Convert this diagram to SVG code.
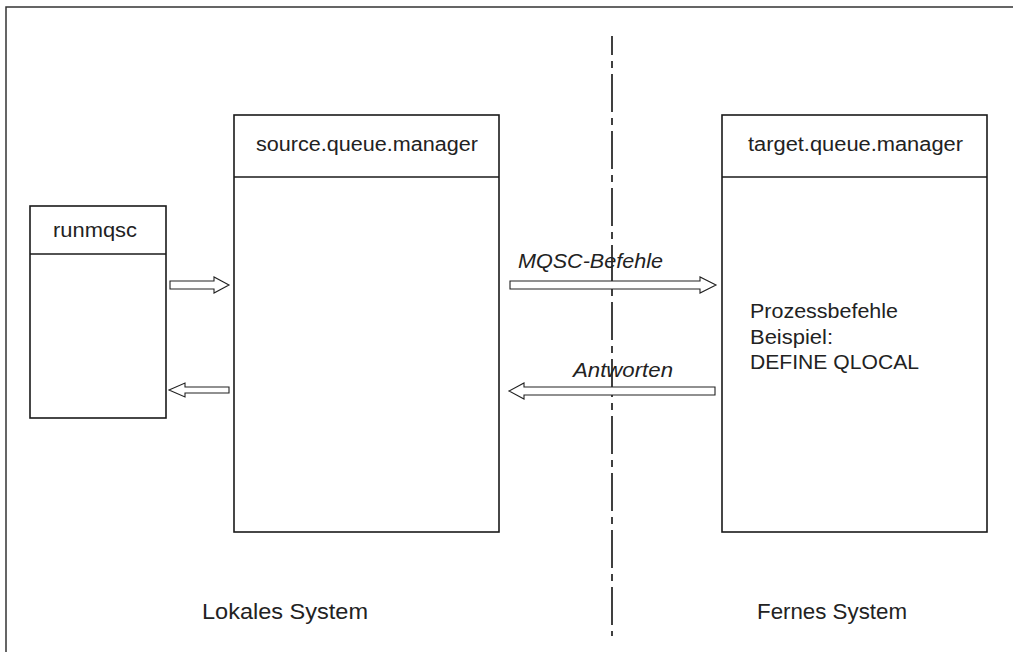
<svg xmlns="http://www.w3.org/2000/svg" width="1013" height="652" viewBox="0 0 1013 652">
  <style>
    .frame { fill: none; stroke: #333; stroke-width: 1.5; }
    .box { fill: #fff; stroke: #1a1a1a; stroke-width: 1.6; }
    .div { stroke: #1a1a1a; stroke-width: 1.6; }
    .arrow { fill: #fff; stroke: #222; stroke-width: 1.1; stroke-linejoin: miter; }
    .sep { stroke: #111; stroke-width: 1.6; stroke-dasharray: 38 6 7 6; stroke-dashoffset: 19; }
    text { font-family: "Liberation Sans", Arial, Helvetica, sans-serif; fill: #222; font-size: 20px; }
    .lbl { font-style: italic; }
    .big { font-size: 22px; }
  </style>

  <rect width="1013" height="652" fill="#fff"/>
  <!-- outer frame (right and bottom edges lie outside the canvas) -->
  <rect class="frame" x="6" y="7" width="1020" height="660"/>

  <!-- boundary between local and remote system -->
  <line class="sep" x1="612" y1="36" x2="612" y2="636"/>

  <g id="runmqsc">
    <rect class="box" x="30" y="206" width="136" height="212"/>
    <line class="div" x1="30" y1="254" x2="166" y2="254"/>
    <text x="53" y="237" textLength="84" lengthAdjust="spacingAndGlyphs">runmqsc</text>
  </g>

  <g id="source-qm">
    <rect class="box" x="234" y="115" width="265" height="417"/>
    <line class="div" x1="234" y1="177" x2="499" y2="177"/>
    <text x="256" y="151" textLength="222" lengthAdjust="spacingAndGlyphs">source.queue.manager</text>
  </g>

  <g id="target-qm">
    <rect class="box" x="722" y="115" width="265" height="417"/>
    <line class="div" x1="722" y1="177" x2="987" y2="177"/>
    <text x="748" y="151" textLength="215" lengthAdjust="spacingAndGlyphs">target.queue.manager</text>
    <text x="750" y="318" textLength="148" lengthAdjust="spacingAndGlyphs">Prozessbefehle</text>
    <text x="750" y="344" textLength="83" lengthAdjust="spacingAndGlyphs">Beispiel:</text>
    <text x="750" y="369" textLength="169" lengthAdjust="spacingAndGlyphs">DEFINE QLOCAL</text>
  </g>

  <g id="local-label">
    <text class="big" x="202" y="619" textLength="166" lengthAdjust="spacingAndGlyphs">Lokales System</text>
  </g>
  <g id="remote-label">
    <text class="big" x="757" y="619" textLength="150" lengthAdjust="spacingAndGlyphs">Fernes System</text>
  </g>

  <g id="connectors">
    <!-- runmqsc -> source.queue.manager -->
    <polygon class="arrow" points="170,281 214,281 214,277 229,285 214,293 214,289 170,289"/>
    <!-- source.queue.manager -> runmqsc -->
    <polygon class="arrow" points="229,387 185,387 185,383 169,390 185,397 185,393 229,393"/>
    <!-- MQSC commands -->
    <polygon class="arrow" points="510,281 700,281 700,277 716,285 700,293 700,289 510,289"/>
    <text class="lbl" x="518" y="268" textLength="145" lengthAdjust="spacingAndGlyphs">MQSC-Befehle</text>
    <!-- replies -->
    <polygon class="arrow" points="715,387 524,387 524,383 509,391 524,399 524,395 715,395"/>
    <text class="lbl" x="573" y="377" textLength="100" lengthAdjust="spacingAndGlyphs">Antworten</text>
  </g>
</svg>
